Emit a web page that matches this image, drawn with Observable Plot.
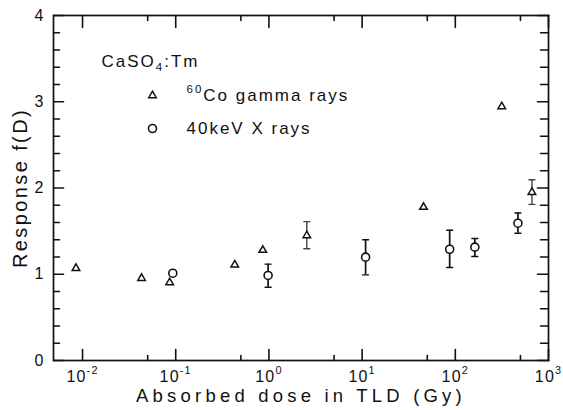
<!DOCTYPE html>
<html><head><meta charset="utf-8">
<script src="https://cdn.jsdelivr.net/npm/d3@7"></script>
<script src="https://cdn.jsdelivr.net/npm/@observablehq/plot@0.6"></script>
<style>body{margin:0;background:#fff} svg{display:block}</style>
</head><body><div id="chart"></div>
<script>
// 60Co gamma rays
const gammaDose = [0.0085, 0.043, 0.086, 0.43, 0.86, 2.55, 45.6, 315, 664];
const gammaResp = [1.07, 0.954, 0.904, 1.11, 1.279, 1.449, 1.778, 2.945, 1.95];
const gammaLo   = [null, null, null, null, null, 1.295, null, null, 1.81];
const gammaHi   = [null, null, null, null, null, 1.61, null, null, 2.095];
// 40 keV X rays
const xrayDose = [0.093, 0.98, 10.9, 87, 162, 470];
const xrayResp = [1.012, 0.986, 1.198, 1.29, 1.314, 1.592];
const xrayLo   = [null, 0.85, 0.993, 1.078, 1.206, 1.476];
const xrayHi   = [null, 1.117, 1.40, 1.51, 1.414, 1.71];

const xMajor = [0.01, 0.1, 1, 10, 100, 1000];
const xMinor = [0.05, 0.5, 5, 50, 500];
const xTickLabels = ["10^{-2}", "10^{-1}", "10^{0}", "10^{1}", "10^{2}", "10^{3}"];
const yMajor = [0, 1, 2, 3, 4];
const yMinor = [0.2,0.4,0.6,0.8,1.2,1.4,1.6,1.8,2.2,2.4,2.6,2.8,3.2,3.4,3.6,3.8];
const yTickLabels = ["0", "1", "2", "3", "4"];

const legendTitle = "CaSO_{4}:Tm";
const seriesNames = ["^{60}Co gamma rays", "40keV X rays"];
const xTitle = "Absorbed dose in TLD (Gy)";
const yTitle = "Response f(D)";

const gamma = gammaDose.map((d, i) => ({dose: d, resp: gammaResp[i], lo: gammaLo[i], hi: gammaHi[i]}));
const xray = xrayDose.map((d, i) => ({dose: d, resp: xrayResp[i], lo: xrayLo[i], hi: xrayHi[i]}));
const gammaErr = gamma.filter(d => d.lo != null);
const xrayErr = xray.filter(d => d.lo != null);

const ink = "#111";
const lineShape = {draw(ctx, l) { ctx.moveTo(0, 0); ctx.lineTo(0, -l); }};
const tick = (data, ch, anchor, rotate, length) => Plot.vector(data, {
  [ch]: d => d, frameAnchor: anchor, rotate, length, shape: lineShape, anchor: "start",
  stroke: ink, strokeWidth: 1.6
});
const cap = (data, key, stroke) => Plot.vector(data, {
  x: "dose", y: key, rotate: 90, length: 6, anchor: "middle", shape: lineShape,
  stroke, strokeWidth: 1.4
});

const chart = Plot.plot({
  width: 563, height: 410,
  marginLeft: 53, marginRight: 15, marginTop: 15, marginBottom: 50,
  style: {fontFamily: "'Liberation Sans', Arial, sans-serif", background: "white", color: ink},
  x: {type: "log", domain: [0.00488, 1000], axis: null},
  y: {domain: [0, 4], axis: null},
  marks: [
    Plot.frame({stroke: ink, strokeWidth: 1.7}),
    tick(xMajor, "x", "bottom", 0, 11),
    tick(xMinor, "x", "bottom", 0, 5),
    tick(xMajor, "x", "top", 180, 12),
    tick(xMinor, "x", "top", 180, 5),
    tick(yMajor, "y", "left", 90, 10),
    tick(yMinor, "y", "left", 90, 6),
    tick(yMajor, "y", "right", -90, 11),
    tick(yMinor, "y", "right", -90, 8),
    Plot.text(xMajor, {x: d => d, frameAnchor: "bottom", text: (d, i) => xTickLabels[i],
      dy: 21, lineAnchor: "bottom", textAnchor: "middle", fontSize: 16, fill: ink}),
    Plot.text(yMajor, {y: d => d, frameAnchor: "left", text: (d, i) => yTickLabels[i],
      dx: -10, textAnchor: "end", fontSize: 16, fill: ink}),
    Plot.text([xTitle], {frameAnchor: "bottom", dy: 41, lineAnchor: "bottom", textAnchor: "middle", fontSize: 18.5, fill: ink}),
    Plot.text([yTitle], {frameAnchor: "left", dx: -33, rotate: -90, textAnchor: "middle", fontSize: 20, fill: ink}),
    // error bars
    Plot.ruleX(gammaErr, {x: "dose", y1: "lo", y2: "hi", stroke: "#444", strokeWidth: 1.4}),
    cap(gammaErr, "lo", "#444"), cap(gammaErr, "hi", "#444"),
    Plot.ruleX(xrayErr, {x: "dose", y1: "lo", y2: "hi", stroke: ink, strokeWidth: 1.7}),
    cap(xrayErr, "lo", ink), cap(xrayErr, "hi", ink),
    // points
    Plot.dot(gamma, {x: "dose", y: "resp", symbol: "triangle", r: 2.8, stroke: ink, strokeWidth: 1.5, fill: "white"}),
    Plot.dot(xray, {x: "dose", y: "resp", symbol: "circle", r: 4, stroke: ink, strokeWidth: 1.6, fill: "white"}),
    // legend
    Plot.text([legendTitle], {frameAnchor: "top-left", dx: 48, dy: 51, textAnchor: "start", lineAnchor: "bottom", fontSize: 17, fill: ink}),
    Plot.dot([0], {frameAnchor: "top-left", dx: 99, dy: 80, symbol: "triangle", r: 2.8, stroke: ink, strokeWidth: 1.5}),
    Plot.dot([0], {frameAnchor: "top-left", dx: 99, dy: 113, symbol: "circle", r: 4, stroke: ink, strokeWidth: 1.6}),
    Plot.text([seriesNames[0]], {frameAnchor: "top-left", dx: 133, dy: 85, textAnchor: "start", lineAnchor: "bottom", fontSize: 17, fill: ink}),
    Plot.text([seriesNames[1]], {frameAnchor: "top-left", dx: 133, dy: 118.5, textAnchor: "start", lineAnchor: "bottom", fontSize: 17, fill: ink})
  ]
});
document.getElementById("chart").appendChild(chart);

// rich text: ^{..} superscript, _{..} subscript; letter spacing
const NS = "http://www.w3.org/2000/svg";
d3.select(chart).selectAll("text").each(function() {
  const el = this;
  const s = el.textContent;
  const fs = parseFloat(getComputedStyle(el).fontSize) || 16;
  let ls = 2;
  if (s === xTitle) ls = 4.2;
  else if (s === yTitle) ls = 2.4;
  else if (/^10\^/.test(s)) ls = 1.2;
  else if (/^\d$/.test(s)) ls = 0;
  el.setAttribute("letter-spacing", ls);
  if (!/[\^_]\{/.test(s)) return;
  while (el.firstChild) el.removeChild(el.firstChild);
  const re = /([\^_])\{([^}]*)\}/g;
  let last = 0, m, shift = 0;
  const add = (txt, size, target) => {
    if (!txt) return;
    const t = document.createElementNS(NS, "tspan");
    t.textContent = txt;
    if (size) t.setAttribute("font-size", size);
    const d = target - shift;
    if (d) t.setAttribute("dy", d);
    shift = target;
    el.appendChild(t);
  };
  while ((m = re.exec(s))) {
    add(s.slice(last, m.index), null, 0);
    add(m[2], fs * 0.68, m[1] === "^" ? -fs * 0.45 : fs * 0.25);
    last = re.lastIndex;
  }
  add(s.slice(last), null, 0);
});
</script>
</body></html>
